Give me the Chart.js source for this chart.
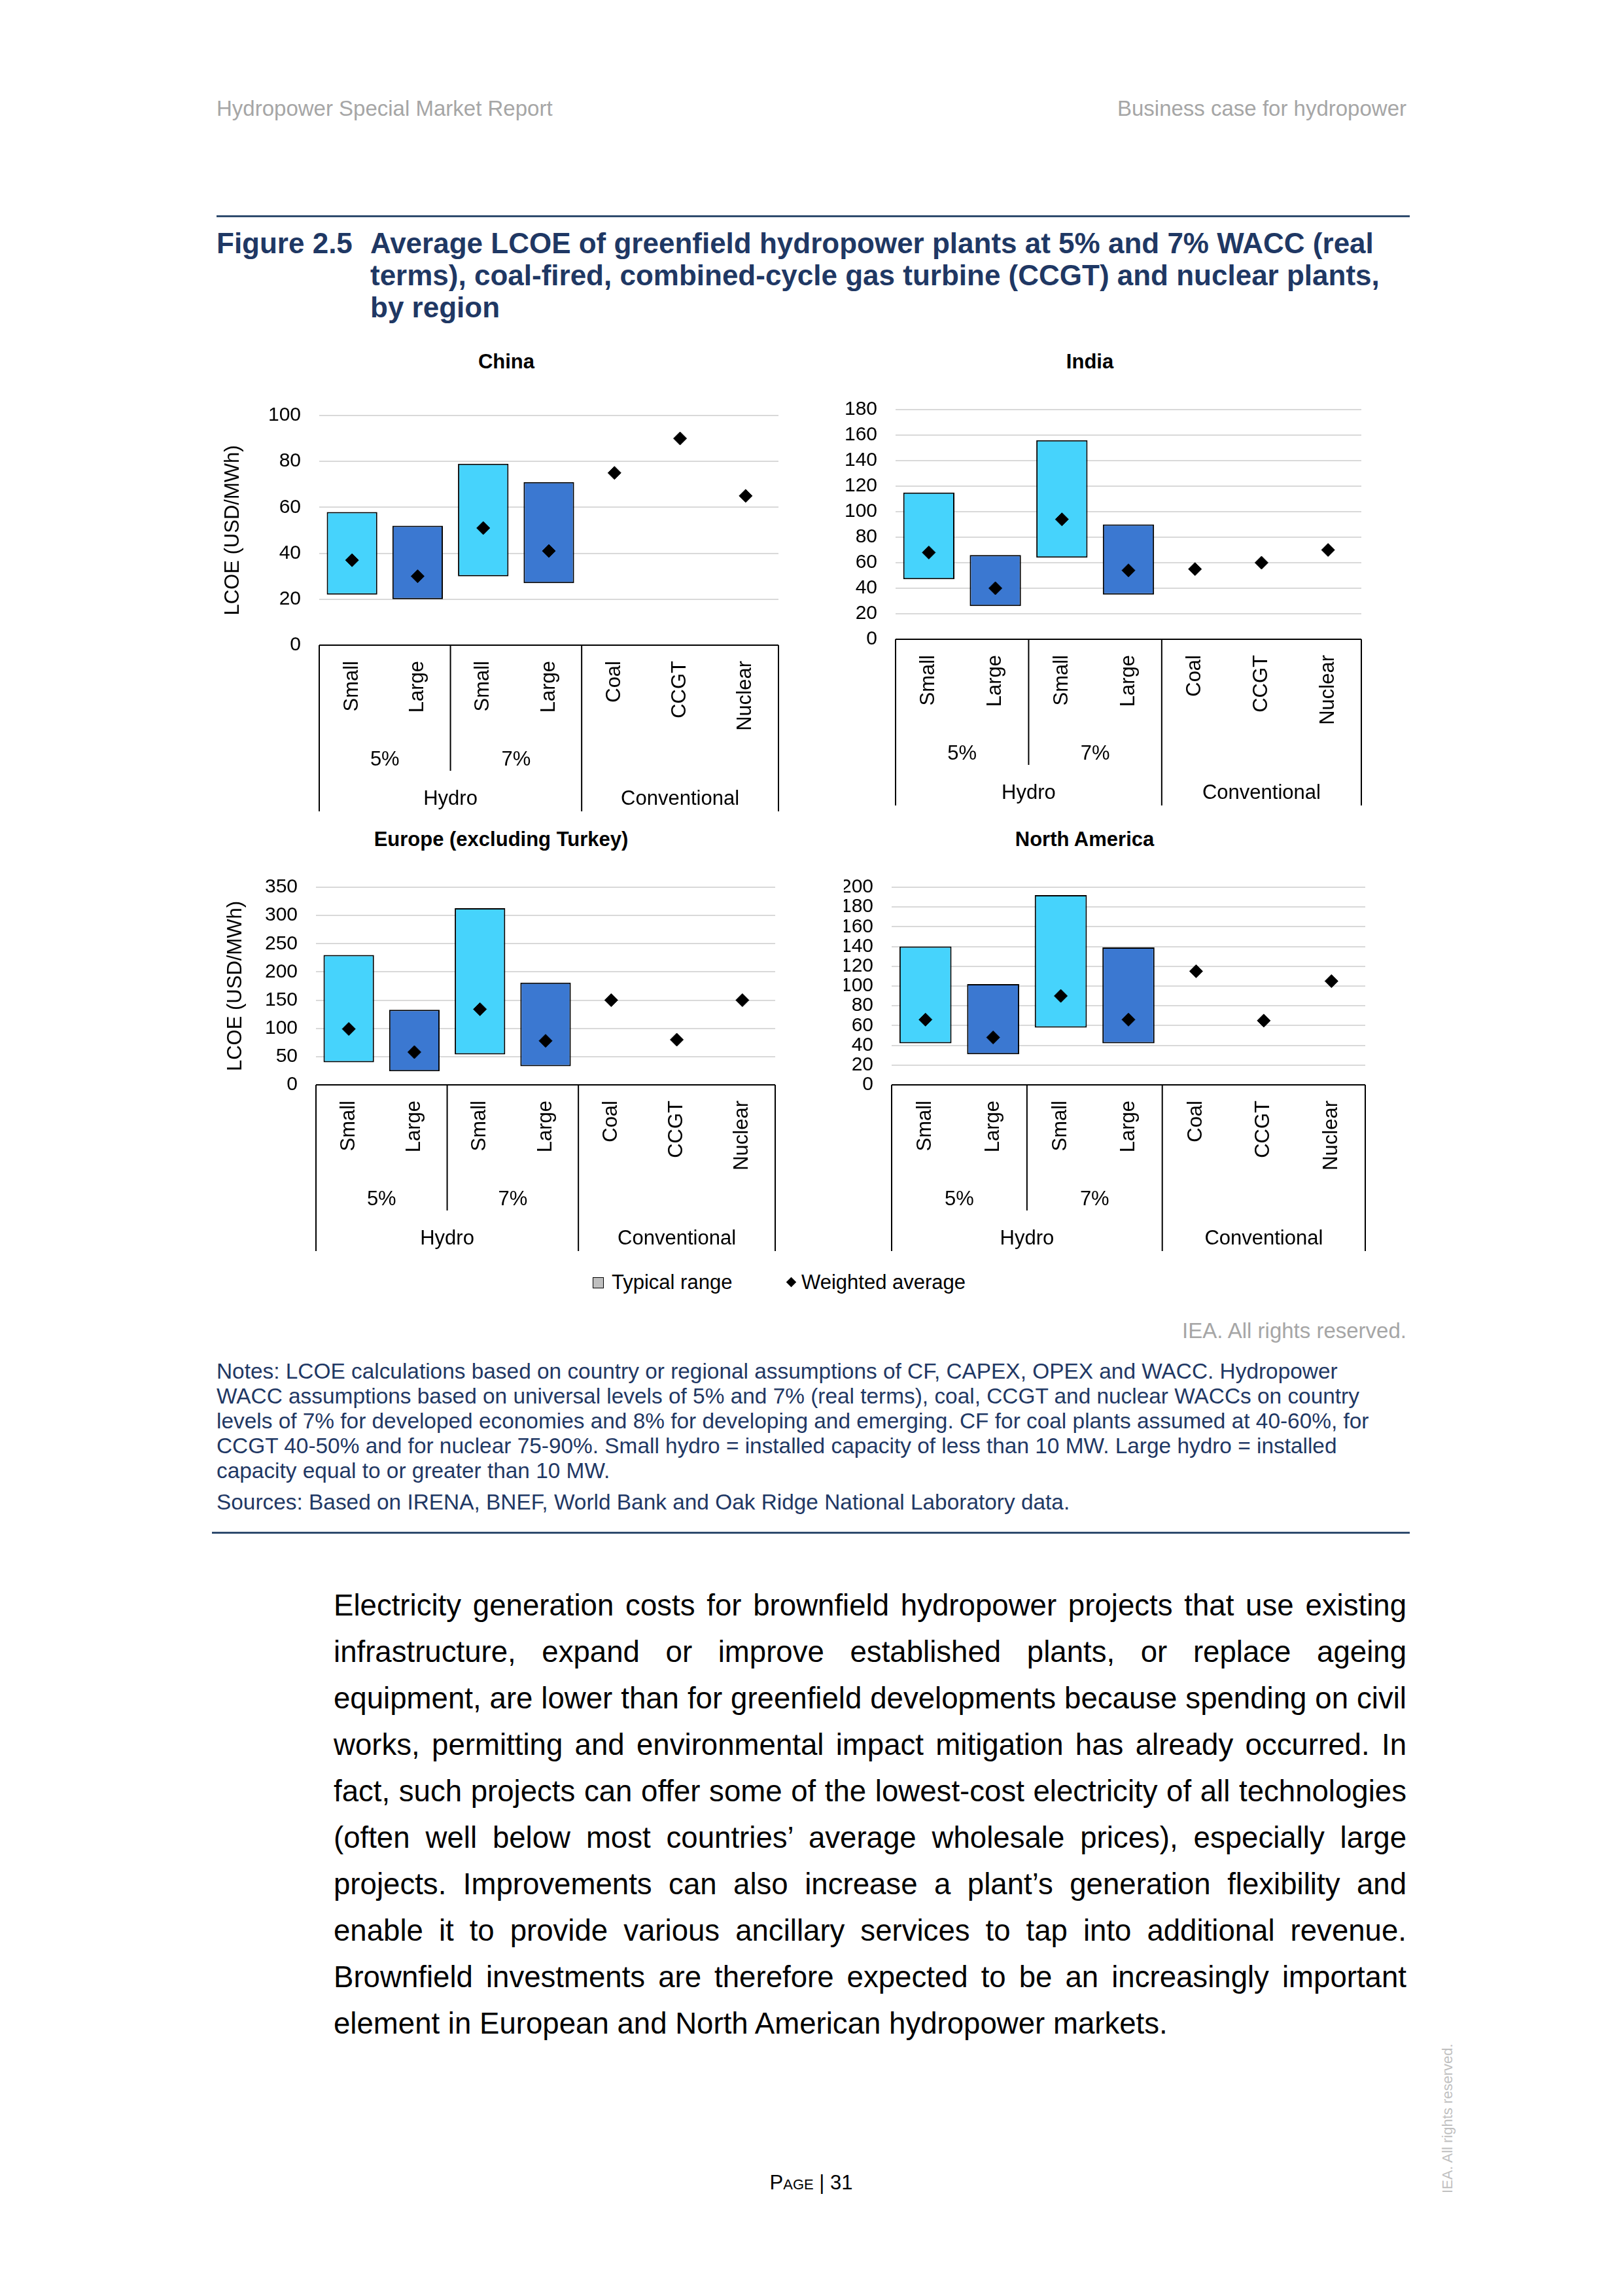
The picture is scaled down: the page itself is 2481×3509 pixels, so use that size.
<!DOCTYPE html>
<html>
<head>
<meta charset="utf-8">
<script src="https://cdn.jsdelivr.net/npm/chart.js@4.4.1/dist/chart.umd.min.js"></script>
<style>
  body { margin: 0; background: #fff; }
  #page { position: relative; width: 2481px; height: 3509px; background: #fff; overflow: hidden;
          font-family: "Liberation Sans", Arial, sans-serif; color: #000; }
  .abs { position: absolute; white-space: nowrap; }
  .hdr { font-size: 33px; line-height: 40px; color: #a6a6a6; }
  .ftitle { font-size: 44px; line-height: 49px; font-weight: bold; color: #1f3864; }
  .ctitle { font-size: 31px; line-height: 36px; font-weight: bold; width: 600px; text-align: center; }
  .note { font-size: 33.4px; line-height: 38px; color: #1f3864; }
  .body { font-size: 45.6px; line-height: 71px; width: 1640px; text-align: justify; text-align-last: justify; }
  .body.last { text-align-last: left; }
  canvas { position: absolute; }
</style>
</head>
<body>
<div id="page">
  <div class="abs hdr" style="left:331px; top:146px">Hydropower Special Market Report</div>
  <div class="abs hdr" style="right:331px; top:146px">Business case for hydropower</div>
  <div class="abs" style="left:331px; top:329px; width:1824px; height:3px; background:#2f4b6e"></div>

  <div class="abs ftitle" style="left:331px; top:347px">Figure 2.5</div>
  <div class="abs ftitle" style="left:566px; top:347px">Average LCOE of greenfield hydropower plants at 5% and 7% WACC (real</div>
  <div class="abs ftitle" style="left:566px; top:396px">terms), coal-fired, combined-cycle gas turbine (CCGT) and nuclear plants,</div>
  <div class="abs ftitle" style="left:566px; top:445px">by region</div>

  <div class="abs ctitle" style="left:474px; top:535px">China</div>
  <div class="abs ctitle" style="left:1366px; top:535px">India</div>
  <div class="abs ctitle" style="left:466px; top:1265px">Europe (excluding Turkey)</div>
  <div class="abs ctitle" style="left:1358px; top:1265px">North America</div>

  <canvas id="china" width="900" height="680" style="left:320px; top:580px"></canvas>
  <canvas id="india" width="830" height="670" style="left:1290px; top:580px"></canvas>
  <canvas id="europe" width="900" height="620" style="left:320px; top:1310px"></canvas>
  <canvas id="namerica" width="830" height="620" style="left:1290px; top:1310px"></canvas>

  <div class="abs" style="left:906px; top:1952px; width:15px; height:15px; background:#bfbfbf; border:1.5px solid #000"></div>
  <div class="abs" style="left:935px; top:1942px; font-size:31px; line-height:36px">Typical range</div>
  <div class="abs" style="left:1204px; top:1954px; width:11px; height:11px; background:#000; transform:rotate(45deg)"></div>
  <div class="abs" style="left:1225px; top:1942px; font-size:31px; line-height:36px">Weighted average</div>

  <div class="abs hdr" style="right:331px; top:2014px">IEA. All rights reserved.</div>

  <div class="abs note" style="left:331px; top:2077px">Notes: LCOE calculations based on country or regional assumptions of CF, CAPEX, OPEX and WACC. Hydropower</div>
  <div class="abs note" style="left:331px; top:2115px">WACC assumptions based on universal levels of 5% and 7% (real terms), coal, CCGT and nuclear WACCs on country</div>
  <div class="abs note" style="left:331px; top:2153px">levels of 7% for developed economies and 8% for developing and emerging. CF for coal plants assumed at 40-60%, for</div>
  <div class="abs note" style="left:331px; top:2191px">CCGT 40-50% and for nuclear 75-90%. Small hydro = installed capacity of less than 10 MW. Large hydro = installed</div>
  <div class="abs note" style="left:331px; top:2229px">capacity equal to or greater than 10 MW.</div>
  <div class="abs note" style="left:331px; top:2277px">Sources: Based on IRENA, BNEF, World Bank and Oak Ridge National Laboratory data.</div>
  <div class="abs" style="left:324px; top:2341px; width:1831px; height:3px; background:#2f4b6e"></div>

  <div class="abs body" style="left:510px; top:2418px">Electricity generation costs for brownfield hydropower projects that use existing</div>
  <div class="abs body" style="left:510px; top:2489px">infrastructure, expand or improve established plants, or replace ageing</div>
  <div class="abs body" style="left:510px; top:2560px">equipment, are lower than for greenfield developments because spending on civil</div>
  <div class="abs body" style="left:510px; top:2631px">works, permitting and environmental impact mitigation has already occurred. In</div>
  <div class="abs body" style="left:510px; top:2702px">fact, such projects can offer some of the lowest-cost electricity of all technologies</div>
  <div class="abs body" style="left:510px; top:2773px">(often well below most countries’ average wholesale prices), especially large</div>
  <div class="abs body" style="left:510px; top:2844px">projects. Improvements can also increase a plant’s generation flexibility and</div>
  <div class="abs body" style="left:510px; top:2915px">enable it to provide various ancillary services to tap into additional revenue.</div>
  <div class="abs body" style="left:510px; top:2986px">Brownfield investments are therefore expected to be an increasingly important</div>
  <div class="abs body last" style="left:510px; top:3057px">element in European and North American hydropower markets.</div>

  <div class="abs" style="left:1040px; top:3318px; width:400px; text-align:center; font-size:31px; line-height:36px; font-variant:small-caps">Page | 31</div>
  <div class="abs" style="left:2103px; top:3230px; width:220px; text-align:center; font-size:22px; line-height:24px; color:#bfbfbf; transform:rotate(-90deg)">IEA. All rights reserved.</div>
</div>

<script>
// categories et groupes de l'axe
const categories = ['Small', 'Large', 'Small', 'Large', 'Coal', 'CCGT', 'Nuclear'];
const waccGroups = ['5%', '7%'];
const techGroups = ['Hydro', 'Conventional'];

// LCOE (USD/MWh) : bas et haut de la plage typique, moyenne pondérée
const chinaLow = [22, 20, 30, 27, null, null, null];
const chinaHigh = [58, 52, 79, 71, null, null, null];
const chinaAvg = [37, 30, 51, 41, 75, 90, 65];

const indiaLow = [47, 26, 64, 35, null, null, null];
const indiaHigh = [115, 66, 156, 90, null, null, null];
const indiaAvg = [68, 40, 94, 54, 55, 60, 70];

const europeLow = [40, 24, 54, 33, null, null, null];
const europeHigh = [230, 133, 313, 181, null, null, null];
const europeAvg = [99, 58, 134, 78, 150, 80, 150];

const naLow = [42, 31, 58, 42, null, null, null];
const naHigh = [140, 102, 192, 139, null, null, null];
const naAvg = [66, 48, 90, 66, 115, 65, 105];

const yTitle = 'LCOE (USD/MWh)';

Chart.defaults.font.family = '"Liberation Sans", Arial, sans-serif';
Chart.defaults.color = '#000';

const CYAN = '#46d3fc';
const BLUE = '#3b78d1';

// axe des catégories à plusieurs niveaux, dessiné sous la zone du graphique
const categoryTree = {
    id: 'categoryTree',
    afterDraw(chart) {
        const { ctx, chartArea: a, scales: { x } } = chart;
        const y0 = a.bottom;
        const px = i => x.getPixelForValue(i);
        const edge = i => (px(i) + px(i + 1)) / 2;

        ctx.save();
        ctx.strokeStyle = '#000';
        ctx.lineWidth = 2;
        ctx.beginPath();
        ctx.moveTo(a.left, y0);
        ctx.lineTo(a.right, y0);
        [a.left, edge(3), a.right].forEach(xx => {
            ctx.moveTo(xx, y0);
            ctx.lineTo(xx, y0 + 254);
        });
        ctx.moveTo(edge(1), y0);
        ctx.lineTo(edge(1), y0 + 192);
        ctx.stroke();

        ctx.fillStyle = '#000';
        ctx.font = '31px "Liberation Sans", Arial, sans-serif';
        categories.forEach((c, i) => {
            ctx.save();
            ctx.translate(px(i), y0 + 24);
            ctx.rotate(-Math.PI / 2);
            ctx.textAlign = 'right';
            ctx.textBaseline = 'middle';
            ctx.fillText(c, 0, 0);
            ctx.restore();
        });
        ctx.textAlign = 'center';
        ctx.textBaseline = 'middle';
        ctx.fillText(waccGroups[0], (px(0) + px(1)) / 2, y0 + 175);
        ctx.fillText(waccGroups[1], (px(2) + px(3)) / 2, y0 + 175);
        ctx.fillText(techGroups[0], (a.left + edge(3)) / 2, y0 + 235);
        ctx.fillText(techGroups[1], (edge(3) + a.right) / 2, y0 + 235);
        ctx.restore();
    }
};

function makeChart(id, low, high, avg, yMax, yStep, showTitle, box) {
    const ctx = document.getElementById(id).getContext('2d');
    return new Chart(ctx, {
        type: 'bar',
        data: {
            labels: categories,
            datasets: [
                {
                    type: 'line',
                    label: 'Weighted average',
                    data: avg,
                    showLine: false,
                    pointStyle: 'rectRot',
                    pointRadius: 10,
                    pointBackgroundColor: '#000',
                    pointBorderColor: '#000',
                    pointBorderWidth: 1,
                    order: 1
                },
                {
                    type: 'bar',
                    label: 'Typical range',
                    data: low.map((v, i) => v == null ? null : [v, high[i]]),
                    backgroundColor: categories.map(c => c === 'Small' ? CYAN : BLUE),
                    borderColor: '#000',
                    borderWidth: 2,
                    borderSkipped: false,
                    barPercentage: 0.77,
                    categoryPercentage: 1,
                    order: 2
                }
            ]
        },
        options: {
            responsive: false,
            animation: false,
            devicePixelRatio: 1,
            layout: { padding: { top: box.top, right: box.right, bottom: box.bottom, left: 0 } },
            scales: {
                x: { type: 'category', offset: true, display: false },
                y: {
                    min: 0,
                    max: yMax,
                    ticks: { stepSize: yStep, autoSkip: false, padding: 28, color: '#000', font: { size: 30 } },
                    grid: {
                        drawTicks: false,
                        lineWidth: 2,
                        color: c => c.tick && c.tick.value === 0 ? 'rgba(0,0,0,0)' : '#d9d9d9'
                    },
                    border: { display: false },
                    title: {
                        display: showTitle,
                        text: yTitle,
                        color: '#000',
                        font: { size: 31 },
                        padding: { top: box.titlePad, bottom: 0 }
                    },
                    afterFit: s => { s.width = box.axis; }
                }
            },
            plugins: {
                legend: { display: false },
                tooltip: { enabled: false },
                title: { display: false }
            }
        },
        plugins: [categoryTree]
    });
}

makeChart('china', chinaLow, chinaHigh, chinaAvg, 100, 20, true,
    { top: 55, right: 30, bottom: 274, axis: 168, titlePad: 18 });
makeChart('india', indiaLow, indiaHigh, indiaAvg, 180, 20, false,
    { top: 43, right: 39, bottom: 273, axis: 79, titlePad: 0 });
makeChart('europe', europeLow, europeHigh, europeAvg, 350, 50, true,
    { top: 43, right: 35, bottom: 272, axis: 163, titlePad: 22 });
makeChart('namerica', naLow, naHigh, naAvg, 200, 20, false,
    { top: 43, right: 33, bottom: 272, axis: 73, titlePad: 0 });
</script>
</body>
</html>
